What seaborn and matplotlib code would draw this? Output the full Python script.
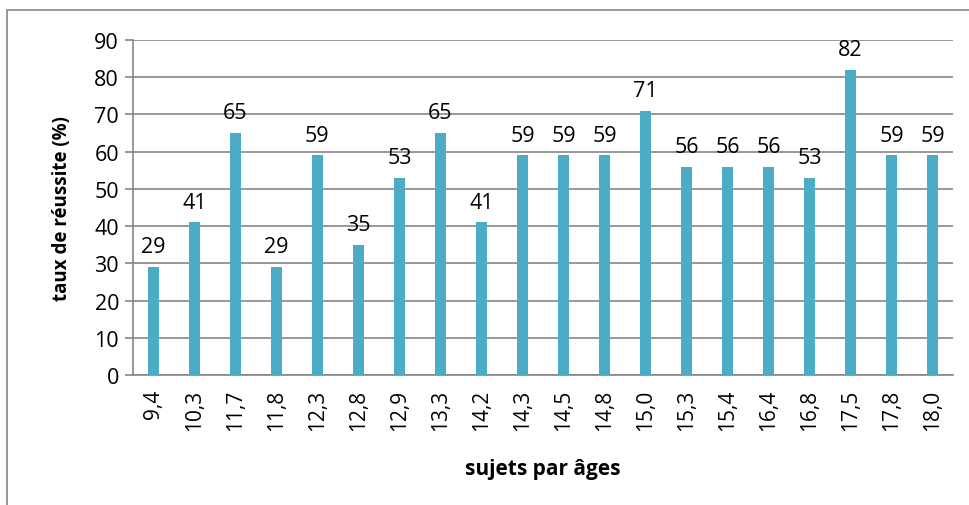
#!/usr/bin/env python3

import pandas as pd
import seaborn as sns
from matplotlib import pyplot as plt
from matplotlib.patches import Rectangle

ages = ["9,4", "10,3", "11,7", "11,8", "12,3", "12,8", "12,9", "13,3", "14,2",
        "14,3", "14,5", "14,8", "15,0", "15,3", "15,4", "16,4", "16,8", "17,5",
        "17,8", "18,0"]
taux = [29, 41, 65, 29, 59, 35, 53, 65, 41, 59, 59, 59, 71, 56, 56, 56, 53,
        82, 59, 59]

sns.set_style("white")
plt.rcParams['font.family'] = ['Open Sans', 'DejaVu Sans']
plt.rcParams['text.color'] = "black"
plt.rcParams['axes.labelcolor'] = "black"
plt.rcParams['xtick.color'] = "black"
plt.rcParams['ytick.color'] = "black"

df = pd.DataFrame({"age": ages, "taux": taux})

fig = plt.figure(figsize=(9.7, 5.06), dpi=100)
ax = fig.add_axes([0.137, 0.257, 0.8455, 0.662])

sns.barplot(x="age", y="taux", data=df, color="#4BACC6", width=0.25,
            saturation=1, linewidth=0, ax=ax, zorder=3)

ax.set_ylim(0, 90)
ax.set_yticks(range(0, 91, 10))
ax.set_xlim(-0.5, len(ages) - 0.5)
ax.grid(axis="y", color="#868686", linewidth=1.2, zorder=0)
for side in ["top", "right"]:
    ax.spines[side].set_visible(False)
for side in ["left", "bottom"]:
    ax.spines[side].set_color("#868686")
    ax.spines[side].set_linewidth(1.2)

ax.tick_params(axis="y", length=6, color="#868686", width=1.2, labelsize=15.5,
               pad=4, left=True, labelcolor="black")
ax.tick_params(axis="x", length=0, labelsize=15, pad=10, rotation=90,
               labelcolor="black")

ax.bar_label(ax.containers[0], fmt="%d", fontsize=15.5, padding=7)

ax.set_ylabel("taux de réussite (%)", fontsize=13.5, fontweight="bold",
              labelpad=16)
ax.set_xlabel("sujets par âges", fontsize=15, fontweight="bold", labelpad=20)

# chart area border
fig.patches.append(Rectangle((7 / 970, -0.1), 1.1, (506 - 11) / 506 + 0.1,
                             transform=fig.transFigure, fill=False,
                             edgecolor="#868686", linewidth=1.2))

fig.savefig("out.png", dpi=100)
